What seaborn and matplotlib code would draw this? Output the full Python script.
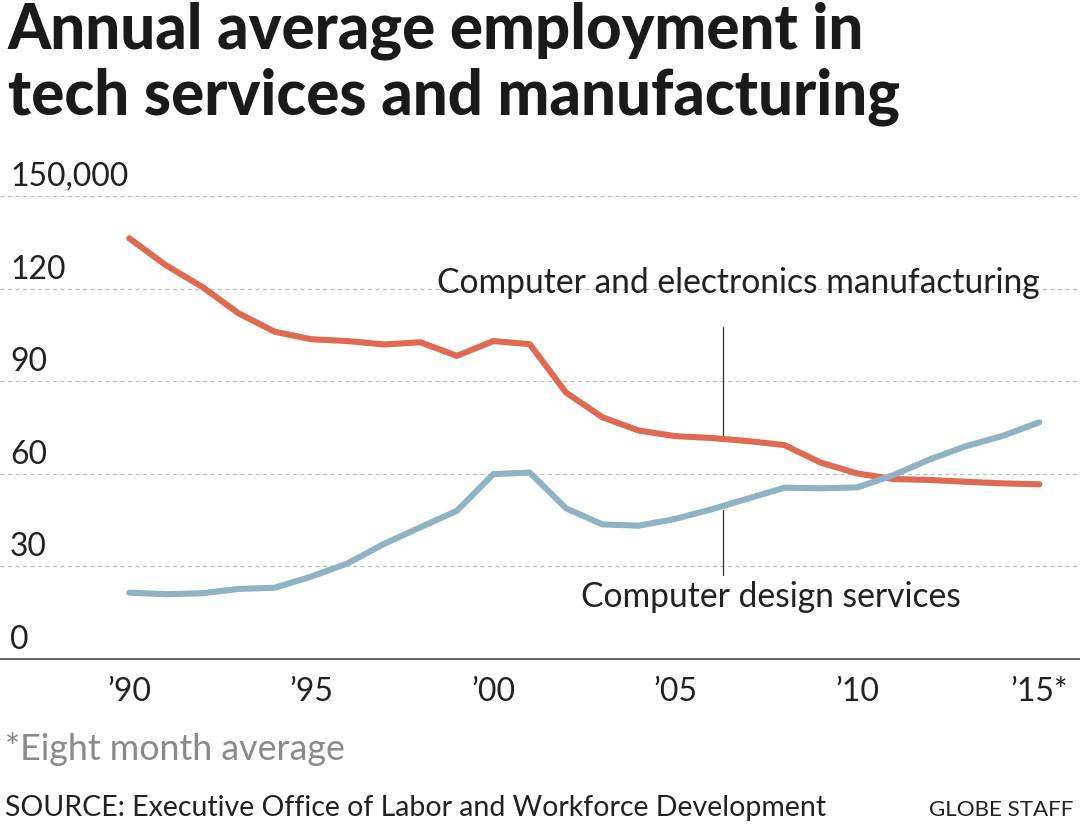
import matplotlib
matplotlib.use("Agg")
import matplotlib.pyplot as plt
import seaborn as sns
import pandas as pd
import numpy as np
from matplotlib.transforms import blended_transform_factory, offset_copy

# ---- data (thousands of jobs) ----
years = [1990, 1991, 1992, 1993, 1994, 1995, 1996, 1997, 1998, 1999,
         2000, 2001, 2002, 2003, 2004, 2005, 2006, 2007, 2008, 2009,
         2010, 2011, 2012, 2013, 2014, 2015]
manufacturing = [136.3, 127.6, 120.6, 112.0, 106.0, 103.6, 103.0, 101.9, 102.6, 98.2,
                 103.0, 102.0, 86.3, 78.3, 74.0, 72.2, 71.6, 70.6, 69.3, 63.6,
                 60.1, 58.3, 58.0, 57.4, 56.9, 56.6]
design = [21.5, 21.0, 21.3, 22.7, 23.1, 26.7, 31.0, 37.3, 42.7, 48.0,
          59.9, 60.4, 48.8, 43.6, 43.2, 45.4, 48.5, 52.0, 55.5, 55.3,
          55.6, 59.6, 64.7, 69.0, 72.3, 76.7]
series_names = ["Computer and electronics manufacturing", "Computer design services"]
ytick_values = [0, 30, 60, 90, 120, 150]
ytick_labels = ["0", "30", "60", "90", "120", "150,000"]
xtick_values = [1990, 1995, 2000, 2005, 2010, 2015]
xtick_labels = ["\u201990", "\u201995", "\u201900", "\u201905", "\u201910", "\u201915*"]
pointer_x = 2006.3
pointer_top = (107.7, 71.5)
pointer_bottom = (48.3, 27.2)

title_lines = ["Annual average employment in", "tech services and manufacturing"]
footnote = "*Eight month average"
source = "SOURCE: Executive Office of Labor and Workforce Development"
credit = "GLOBE STAFF"

RED = "#DF6A51"
BLUE = "#8FB2C5"

df = pd.DataFrame({
    "year": years * 2,
    "jobs": manufacturing + design,
    "series": [series_names[0]] * len(years) + [series_names[1]] * len(years),
})

sns.set_theme(style="white")
plt.rcParams["font.family"] = ["Lato", "DejaVu Sans"]

W, H = 1080, 824
fig = plt.figure(figsize=(W / 100, H / 100), dpi=100)
fig.patch.set_facecolor("white")

def fx(x):
    return x / W

def fy(y):
    return 1 - y / H

# axes geometry in pixels
ax_top, ax_bot = 170, 659
ax = fig.add_axes([0, fy(ax_bot), 1, (ax_bot - ax_top) / H])
px_per_unit = (659 - 196) / 150.0
ax.set_ylim(0, (ax_bot - ax_top) / px_per_unit)
x_per_px = 1 / 36.4
ax.set_xlim(1990 - 129.3 * x_per_px, 1990 + (1080 - 129.3) * x_per_px)

sns.lineplot(data=df, x="year", y="jobs", hue="series",
             palette={series_names[0]: RED, series_names[1]: BLUE},
             linewidth=4.4, ax=ax, legend=False, zorder=3)
for ln in ax.get_lines():
    ln.set_solid_capstyle("round")
    ln.set_solid_joinstyle("round")

ax.set_xlabel("")
ax.set_ylabel("")
ax.set_yticks(ytick_values)
ax.grid(axis="y", color="#bdbdbd", linestyle=(0, (3.2, 2.8)), linewidth=0.9)
ax.grid(axis="x", visible=False)
ax.tick_params(axis="y", left=False, labelleft=False)
ax.set_xticks(xtick_values)
ax.set_xticklabels(xtick_labels)
ax.tick_params(axis="x", bottom=False, pad=7, labelsize=18.5, labelcolor="#222222")
for s in ["top", "left", "right"]:
    ax.spines[s].set_visible(False)
ax.spines["bottom"].set_color("#555555")
ax.spines["bottom"].set_linewidth(1.3)

# pointer lines
ax.plot([pointer_x, pointer_x], list(pointer_top), color="#333333", lw=0.9, zorder=2)
ax.plot([pointer_x, pointer_x], list(pointer_bottom), color="#333333", lw=0.9, zorder=2)

fig.canvas.draw()
renderer = fig.canvas.get_renderer()

def fit(t, target_w):
    w = t.get_window_extent(renderer).width
    t.set_fontsize(t.get_fontsize() * target_w / w)

# x tick label size fitted to reference width of "'10"
xl = ax.get_xticklabels()[4]
wx = xl.get_window_extent(renderer).width
ax.tick_params(axis="x", labelsize=18.5 * 44 / wx)

# y tick labels above grid lines
tr = offset_copy(blended_transform_factory(fig.transFigure, ax.transData), fig=fig, x=0, y=10, units="dots")
ylabs = []
for v, lab in zip(ytick_values, ytick_labels):
    t = ax.text(fx(10), v, lab, transform=tr, ha="left", va="baseline",
                fontsize=19, color="#222222")
    ylabs.append(t)
fit(ylabs[-1], 118)
for t in ylabs:
    t.set_fontsize(ylabs[-1].get_fontsize())

# series labels
def data_x(px):
    return 1990 + (px - 129.3) * x_per_px

def data_y(py):
    return (659 - py) / px_per_unit

t1 = ax.text(data_x(437), data_y(293), series_names[0], ha="left", va="baseline",
             fontsize=20, color="#222222", zorder=4)
fit(t1, 605)
t2 = ax.text(data_x(581), data_y(607), series_names[1], ha="left", va="baseline",
             fontsize=20, color="#222222", zorder=4)
fit(t2, 381)

# title
ttl = []
for line, base in zip(title_lines, [48, 114]):
    t = fig.text(fx(8), fy(base), line, ha="left", va="baseline",
                 fontsize=40, fontweight="black", color="#1a1a1a",
                 family=["Lato", "DejaVu Sans"])
    ttl.append(t)
fit(ttl[1], 890)
ttl[0].set_fontsize(ttl[1].get_fontsize())

# footer
tf = fig.text(fx(5), fy(760), footnote, ha="left", va="baseline", fontsize=20, color="#8a8a8a")
fit(tf, 340)
ts = fig.text(fx(5), fy(816), source, ha="left", va="baseline", fontsize=18, color="#222222")
fit(ts, 820)
tc = fig.text(fx(1073), fy(816), credit, ha="right", va="baseline", fontsize=14, color="#222222")
fit(tc, 145)

fig.savefig("out.png", dpi=100, facecolor="white")
